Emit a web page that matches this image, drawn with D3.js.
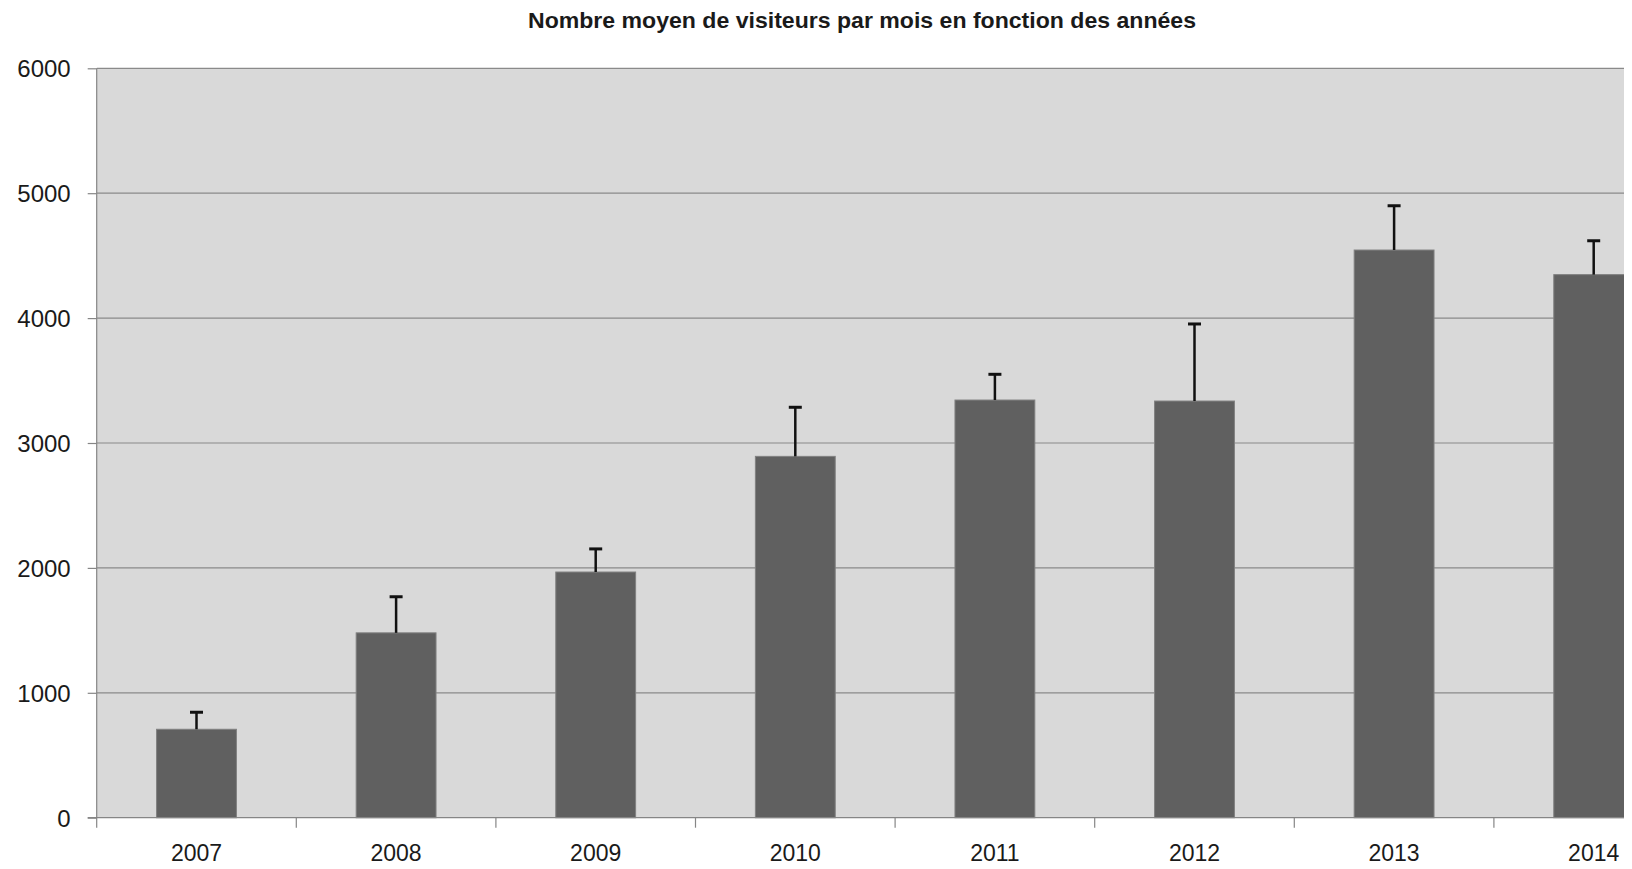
<!DOCTYPE html>
<html>
<head>
<meta charset="utf-8">
<script src="https://cdn.jsdelivr.net/npm/d3@7"></script>
<style>
  body { margin: 0; background: #fff; }
  text { font-family: "Liberation Sans", Arial, sans-serif; fill: #1a1a1a; }
</style>
</head>
<body>
<div id="chart"></div>
<script>
const years = ['2007', '2008', '2009', '2010', '2011', '2012', '2013', '2014'];
const means = [708, 1480, 1967, 2893, 3344, 3336, 4545, 4348];
const errTops = [844, 1769, 2152, 3286, 3550, 3953, 4900, 4620];
const yTicks = [0, 1000, 2000, 3000, 4000, 5000, 6000];
const title = 'Nombre moyen de visiteurs par mois en fonction des années';

const width = 1632, height = 869;
const plotLeft = 96.7, plotTop = 68.3, plotBottom = 817.7, clipRight = 1624;
const band = 199.6;

const svg = d3.select('#chart').append('svg')
    .attr('width', width)
    .attr('height', height);

const x = d3.scaleBand()
    .domain(years)
    .range([plotLeft, plotLeft + band * years.length])
    .paddingInner(0.6)
    .paddingOuter(0.3);

const y = d3.scaleLinear()
    .domain([0, 6000])
    .range([plotBottom, plotTop]);

svg.append('defs').append('clipPath')
    .attr('id', 'plotclip')
    .append('rect')
    .attr('x', plotLeft)
    .attr('y', plotTop - 5)
    .attr('width', clipRight - plotLeft)
    .attr('height', plotBottom - plotTop + 20);

// plot background
svg.append('rect')
    .attr('x', plotLeft)
    .attr('y', plotTop)
    .attr('width', clipRight - plotLeft)
    .attr('height', plotBottom - plotTop)
    .style('fill', '#d9d9d9');

const plot = svg.append('g').attr('clip-path', 'url(#plotclip)');

// gridlines
plot.selectAll('.grid')
    .data(yTicks.filter(d => d > 0))
    .enter().append('line')
    .attr('x1', plotLeft)
    .attr('x2', clipRight)
    .attr('y1', d => y(d))
    .attr('y2', d => y(d))
    .style('stroke', '#8a8a8a')
    .style('stroke-width', 1.2);

// bars
plot.selectAll('.bar')
    .data(years)
    .enter().append('rect')
    .attr('x', d => x(d))
    .attr('y', (d, i) => y(means[i]))
    .attr('width', x.bandwidth())
    .attr('height', (d, i) => plotBottom - y(means[i]))
    .style('fill', '#606060')
    .style('stroke', '#808080')
    .style('stroke-width', 1);

// error bars
const err = plot.selectAll('.err')
    .data(years)
    .enter().append('g');
err.append('line')
    .attr('x1', d => x(d) + x.bandwidth() / 2)
    .attr('x2', d => x(d) + x.bandwidth() / 2)
    .attr('y1', (d, i) => y(means[i]))
    .attr('y2', (d, i) => y(errTops[i]))
    .style('stroke', '#111')
    .style('stroke-width', 2.5);
err.append('line')
    .attr('x1', d => x(d) + x.bandwidth() / 2 - 6.5)
    .attr('x2', d => x(d) + x.bandwidth() / 2 + 6.5)
    .attr('y1', (d, i) => y(errTops[i]))
    .attr('y2', (d, i) => y(errTops[i]))
    .style('stroke', '#111')
    .style('stroke-width', 3);

// y axis
const yAxis = svg.append('g')
    .attr('transform', `translate(${plotLeft},0)`)
    .call(d3.axisLeft(y).tickValues(yTicks).tickSize(9).tickPadding(17).tickFormat(d3.format('d')));
yAxis.select('.domain').style('stroke', '#868686').style('stroke-width', 1.2)
    .attr('d', `M0,${plotTop}V${plotBottom}`);
yAxis.selectAll('.tick line').style('stroke', '#868686').style('stroke-width', 1.2);
yAxis.selectAll('.tick text')
    .style('font-size', '24px')
    .style('fill', '#1a1a1a')
    .attr('dy', '0.35em');

// x axis line and boundary ticks
svg.append('line')
    .attr('x1', plotLeft - 9)
    .attr('x2', clipRight)
    .attr('y1', plotBottom)
    .attr('y2', plotBottom)
    .style('stroke', '#868686')
    .style('stroke-width', 1.2);
svg.selectAll('.xtick')
    .data(years)
    .enter().append('line')
    .attr('x1', d => x(d) - x.step() * 0.3)
    .attr('x2', d => x(d) - x.step() * 0.3)
    .attr('y1', plotBottom)
    .attr('y2', plotBottom + 10)
    .style('stroke', '#868686')
    .style('stroke-width', 1.2);

svg.selectAll('.xlabel')
    .data(years)
    .enter().append('text')
    .attr('x', d => Math.min(x(d) + x.bandwidth() / 2, 1595))
    .attr('y', 861)
    .attr('text-anchor', 'middle')
    .style('font-size', '23px')
    .text(d => d);

// title
svg.append('text')
    .attr('x', 862)
    .attr('y', 28)
    .attr('text-anchor', 'middle')
    .style('font-size', '22px')
    .style('font-weight', 'bold')
    .attr('textLength', 668)
    .attr('lengthAdjust', 'spacingAndGlyphs')
    .text(title);
</script>
</body>
</html>
